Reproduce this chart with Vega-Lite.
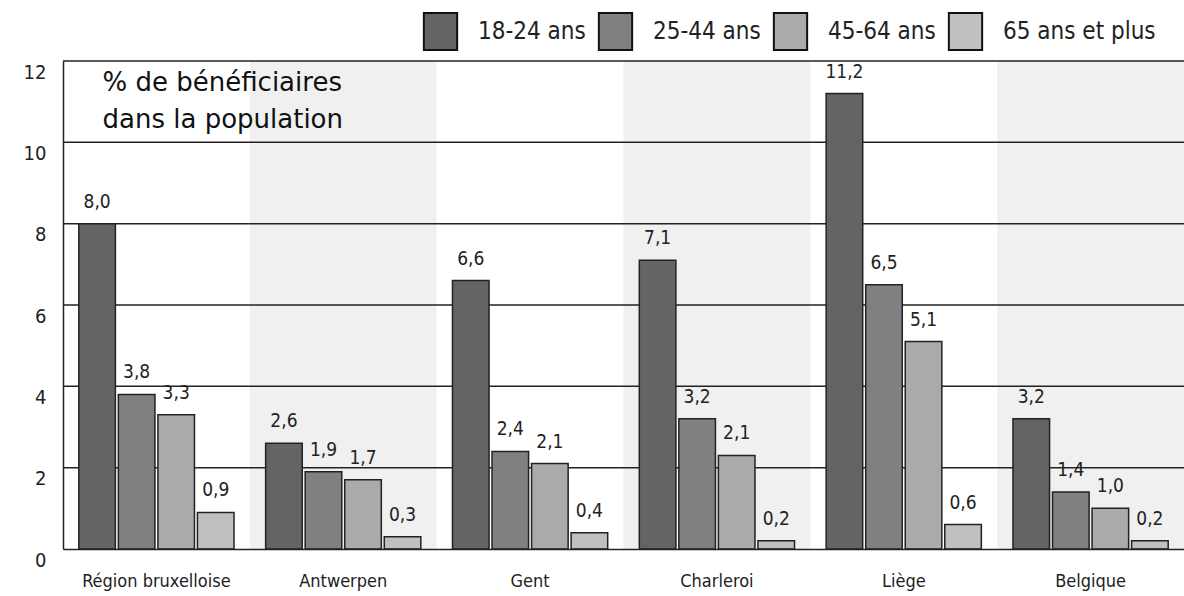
{
  "$schema": "https://vega.github.io/schema/vega-lite/v6.json",
  "width": 1121,
  "height": 488,
  "autosize": {"type": "none"},
  "padding": {"left": 63, "top": 61, "right": 0, "bottom": 47},
  "background": "white",
  "config": {"view": {"stroke": null}, "font": "'DejaVu Sans Condensed', 'Roboto', sans-serif"},
  "datasets": {
    "bars": [
      {"city": "Région bruxelloise", "age": "18-24 ans", "v": 8.0, "label": "8,0"},
      {"city": "Région bruxelloise", "age": "25-44 ans", "v": 3.8, "label": "3,8"},
      {"city": "Région bruxelloise", "age": "45-64 ans", "v": 3.3, "label": "3,3"},
      {"city": "Région bruxelloise", "age": "65 ans et plus", "v": 0.9, "label": "0,9"},
      {"city": "Antwerpen", "age": "18-24 ans", "v": 2.6, "label": "2,6"},
      {"city": "Antwerpen", "age": "25-44 ans", "v": 1.9, "label": "1,9"},
      {"city": "Antwerpen", "age": "45-64 ans", "v": 1.7, "label": "1,7"},
      {"city": "Antwerpen", "age": "65 ans et plus", "v": 0.3, "label": "0,3"},
      {"city": "Gent", "age": "18-24 ans", "v": 6.6, "label": "6,6"},
      {"city": "Gent", "age": "25-44 ans", "v": 2.4, "label": "2,4"},
      {"city": "Gent", "age": "45-64 ans", "v": 2.1, "label": "2,1"},
      {"city": "Gent", "age": "65 ans et plus", "v": 0.4, "label": "0,4"},
      {"city": "Charleroi", "age": "18-24 ans", "v": 7.1, "label": "7,1"},
      {"city": "Charleroi", "age": "25-44 ans", "v": 3.2, "label": "3,2"},
      {"city": "Charleroi", "age": "45-64 ans", "v": 2.3, "label": "2,1"},
      {"city": "Charleroi", "age": "65 ans et plus", "v": 0.2, "label": "0,2"},
      {"city": "Liège", "age": "18-24 ans", "v": 11.2, "label": "11,2"},
      {"city": "Liège", "age": "25-44 ans", "v": 6.5, "label": "6,5"},
      {"city": "Liège", "age": "45-64 ans", "v": 5.1, "label": "5,1"},
      {"city": "Liège", "age": "65 ans et plus", "v": 0.6, "label": "0,6"},
      {"city": "Belgique", "age": "18-24 ans", "v": 3.2, "label": "3,2"},
      {"city": "Belgique", "age": "25-44 ans", "v": 1.4, "label": "1,4"},
      {"city": "Belgique", "age": "45-64 ans", "v": 1.0, "label": "1,0"},
      {"city": "Belgique", "age": "65 ans et plus", "v": 0.2, "label": "0,2"}
    ],
    "bands": [
      {"city": "Antwerpen"},
      {"city": "Charleroi"},
      {"city": "Belgique"}
    ],
    "grid": [
      {"v": 2}, {"v": 4}, {"v": 6}, {"v": 8}, {"v": 10}, {"v": 12}
    ]
  },
  "layer": [
    {
      "data": {"name": "bands"},
      "mark": {"type": "rect", "color": "#f0f0f0"},
      "encoding": {
        "x": {
          "field": "city",
          "type": "nominal",
          "sort": null,
          "scale": {
            "domain": ["Région bruxelloise", "Antwerpen", "Gent", "Charleroi", "Liège", "Belgique"],
            "paddingInner": 0,
            "paddingOuter": 0
          },
          "axis": {
            "title": null,
            "ticks": false,
            "zindex": 1,
            "domainColor": "#222",
            "domainWidth": 1.5,
            "labelFontSize": 18,
            "labelPadding": 23,
            "labelAngle": 0,
            "labelColor": "#222",
            "labelFont": "'DejaVu Sans Condensed', 'Roboto', sans-serif"
          }
        },
        "y": {
          "datum": 0,
          "type": "quantitative",
          "scale": {"domain": [0, 12], "nice": false},
          "axis": {
            "title": ["% de bénéficiaires", "dans la population"],
            "titleAngle": 0,
            "titleX": 39,
            "titleY": 29,
            "titleAlign": "left",
            "titleBaseline": "alphabetic",
            "titleFont": "DejaVu Sans",
            "titleFontSize": 26,
            "titleFontWeight": "normal",
            "titleLineHeight": 37,
            "titleColor": "#111",
            "values": [0, 2, 4, 6, 8, 10, 12],
            "grid": false,
            "ticks": false,
            "zindex": 1,
            "domainColor": "#222",
            "domainWidth": 1.5,
            "labelFontSize": 20,
            "labelPadding": 17,
            "labelOffset": 11,
            "labelFlush": false,
            "labelColor": "#222",
            "labelFont": "'DejaVu Sans Condensed', 'Roboto', sans-serif"
          }
        },
        "y2": {"datum": 12}
      }
    },
    {
      "data": {"name": "grid"},
      "mark": {"type": "rule", "color": "#222", "strokeWidth": 1.5},
      "encoding": {
        "y": {"field": "v", "type": "quantitative"}
      }
    },
    {
      "data": {"name": "bars"},
      "mark": {"type": "bar", "stroke": "#222", "strokeWidth": 1.5},
      "encoding": {
        "x": {"field": "city", "type": "nominal", "sort": null},
        "xOffset": {
          "field": "age",
          "type": "nominal",
          "scale": {"paddingInner": 0.075, "paddingOuter": 0.4}
        },
        "y": {"field": "v", "type": "quantitative"},
        "fill": {
          "field": "age",
          "type": "nominal",
          "scale": {
            "domain": ["18-24 ans", "25-44 ans", "45-64 ans", "65 ans et plus"],
            "range": ["#646464", "#808080", "#aaaaaa", "#c0c0c0"]
          },
          "legend": {
            "title": null,
            "orient": "none",
            "legendX": 358,
            "legendY": -49,
            "direction": "horizontal",
            "symbolType": "M-0.9,-1H0.9V1H-0.9Z",
            "symbolSize": 1369,
            "symbolStrokeColor": "#111",
            "symbolStrokeWidth": 2,
            "labelFontSize": 24,
            "labelOffset": 18,
            "columnPadding": 8,
            "labelLimit": 300,
            "labelColor": "#222",
            "labelFont": "'DejaVu Sans Condensed', 'Roboto', sans-serif"
          }
        }
      }
    },
    {
      "data": {"name": "bars"},
      "mark": {"type": "text", "baseline": "alphabetic", "dy": -16, "fontSize": 19, "color": "#222", "font": "'DejaVu Sans Condensed', 'Roboto', sans-serif"},
      "encoding": {
        "x": {"field": "city", "type": "nominal", "sort": null},
        "xOffset": {"field": "age", "type": "nominal"},
        "y": {"field": "v", "type": "quantitative"},
        "text": {"field": "label"}
      }
    }
  ]
}
